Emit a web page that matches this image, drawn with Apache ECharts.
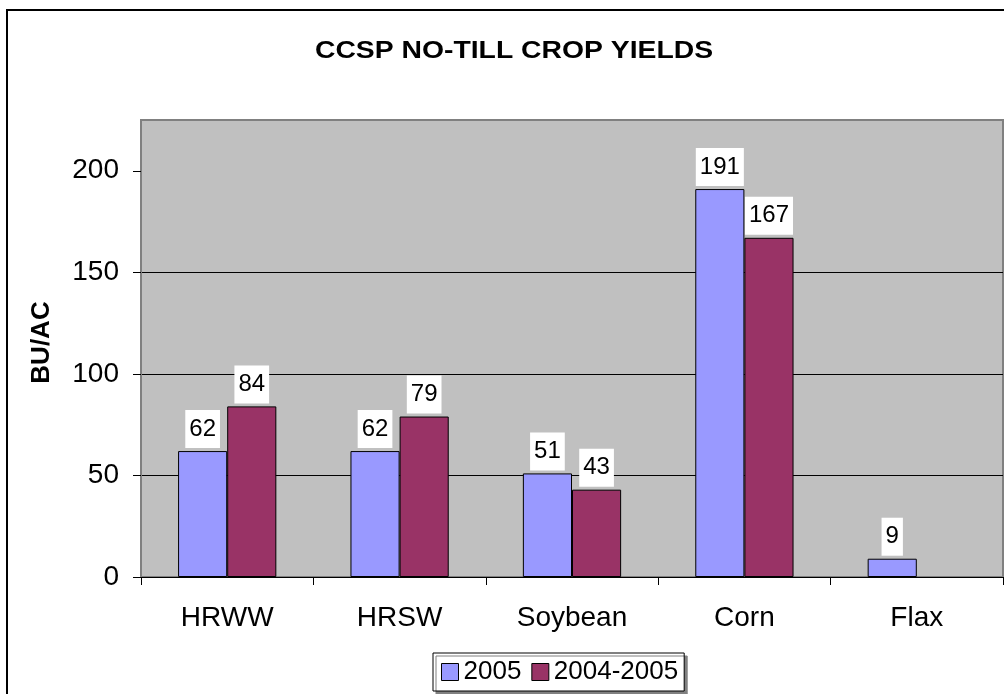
<!DOCTYPE html>
<html>
<head>
<meta charset="utf-8">
<script src="https://cdn.jsdelivr.net/npm/echarts@6/dist/echarts.min.js"></script>
<style>
html,body{margin:0;padding:0;background:#fff;}
#chart{width:1004px;height:694px;}
</style>
</head>
<body>
<div id="chart"></div>
<script>
const titleText = 'CCSP NO-TILL CROP YIELDS';
const yAxisName = 'BU/AC';
const categories = ['HRWW', 'HRSW', 'Soybean', 'Corn', 'Flax'];
const seriesNames = ['2005', '2004-2005'];
const values2005 = [62, 62, 51, 191, 9];
const values2004_2005 = [84, 79, 43, 167, null];
const yTicks = [0, 50, 100, 150, 200];

const FONT = '"Liberation Sans", Arial, sans-serif';
const chart = echarts.init(document.getElementById('chart'), null, {renderer: 'canvas'});

const labelStyle = {
  show: true,
  position: 'top',
  distance: 3,
  color: '#000',
  fontFamily: FONT,
  fontSize: 24,
  backgroundColor: '#fff',
  padding: [7, 4]
};

chart.setOption({
  animation: false,
  backgroundColor: '#fff',
  graphic: [
    {
      type: 'rect',
      shape: {x: 7, y: 10, width: 1100, height: 800},
      style: {fill: 'none', stroke: '#000', lineWidth: 2},
      z: 100, silent: true
    },
    {
      type: 'text',
      x: 514, y: 51, scaleX: 1.18,
      style: {
        text: titleText,
        font: 'bold 24px ' + FONT,
        fill: '#000',
        textAlign: 'center',
        textVerticalAlign: 'middle'
      }
    }
  ],
  grid: {
    left: 141, right: 1, top: 120, bottom: 117,
    show: true,
    backgroundColor: '#C0C0C0',
    borderColor: '#808080',
    borderWidth: 2
  },
  legend: {
    data: seriesNames,
    left: 433, top: 653,
    padding: [6, 6, 6, 8],
    itemGap: 10,
    itemWidth: 17, itemHeight: 17,
    icon: 'rect',
    backgroundColor: '#fff',
    borderColor: '#000',
    borderWidth: 1,
    shadowColor: '#808080',
    shadowOffsetX: 3,
    shadowOffsetY: 3,
    shadowBlur: 0,
    textStyle: {fontFamily: FONT, fontSize: 26, color: '#000'},
    itemStyle: {borderColor: '#000', borderWidth: 1}
  },
  xAxis: {
    type: 'category',
    data: categories,
    axisLine: {show: true, lineStyle: {color: '#000', width: 1}},
    axisTick: {show: true, alignWithLabel: false, length: 8, lineStyle: {color: '#000'}},
    axisLabel: {fontFamily: FONT, fontSize: 28, color: '#000', margin: 27},
    splitLine: {show: false}
  },
  yAxis: {
    type: 'value',
    min: 0, max: 225, interval: 50,
    name: yAxisName,
    nameLocation: 'middle',
    nameRotate: 90,
    nameGap: 86,
    nameTextStyle: {fontFamily: FONT, fontSize: 26, fontWeight: 'bold', color: '#000', padding: [0, 0, 0, 12]},
    axisLine: {show: true, lineStyle: {color: '#808080', width: 2}},
    axisTick: {show: true, length: 8, lineStyle: {color: '#000'}, customValues: yTicks},
    axisLabel: {
      fontFamily: FONT, fontSize: 28, color: '#000', margin: 22,
      customValues: yTicks,
      formatter: v => (yTicks.indexOf(v) >= 0 ? String(v) : '')
    },
    splitLine: {show: true, showMinLine: false, showMaxLine: false, lineStyle: {color: '#000', width: 1}}
  },
  series: [
    {
      name: seriesNames[0],
      type: 'bar',
      data: values2005,
      barGap: '0%',
      barCategoryGap: '43%',
      itemStyle: {color: '#9999FF', borderColor: '#000', borderWidth: 1},
      label: labelStyle
    },
    {
      name: seriesNames[1],
      type: 'bar',
      data: values2004_2005,
      barGap: '0%',
      barCategoryGap: '43%',
      itemStyle: {color: '#993366', borderColor: '#000', borderWidth: 1},
      label: labelStyle
    }
  ]
});
</script>
</body>
</html>
